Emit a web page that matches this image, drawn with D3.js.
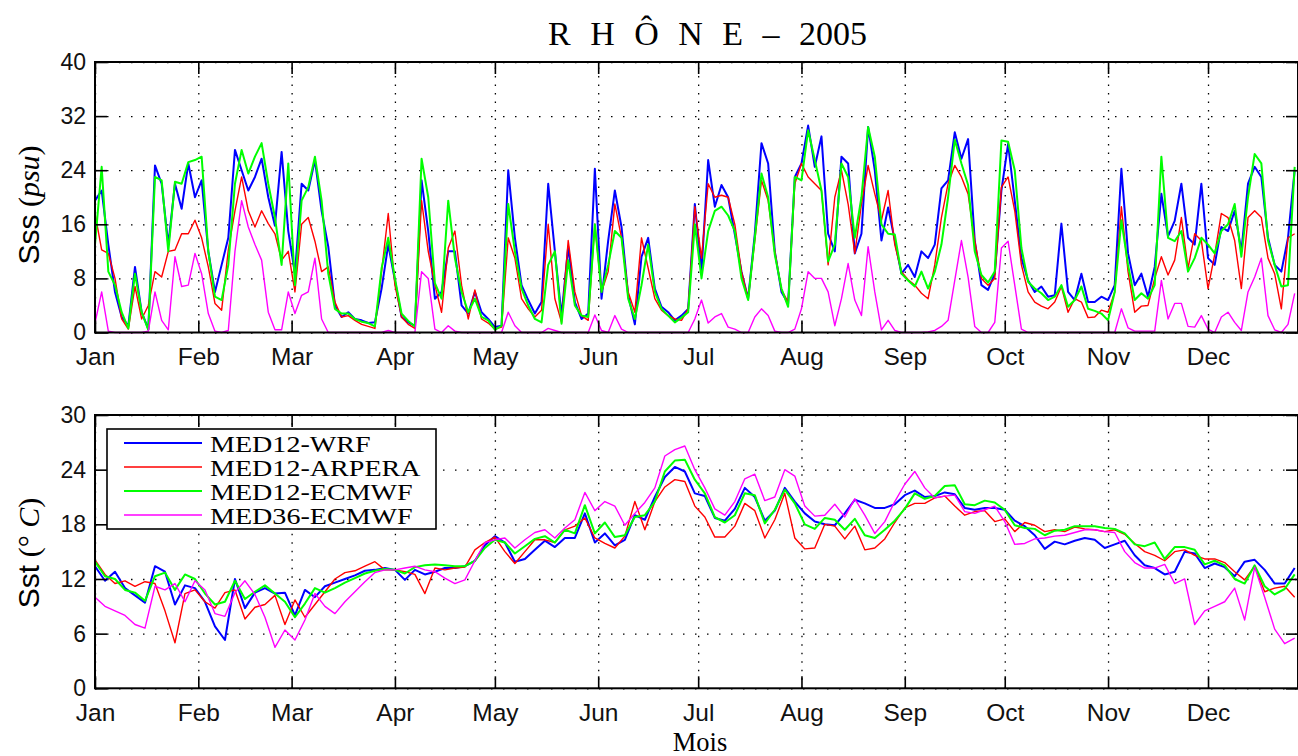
<!DOCTYPE html>
<html>
<head>
<meta charset="utf-8">
<script src="https://cdn.jsdelivr.net/npm/d3@7"></script>
<style>
body { margin: 0; background: #fff; }
</style>
</head>
<body>
<div id="chart"></div>
<script>
const width = 1298,
    height = 756
const left = 95,
    right = 1298
const sssBox = { top: 62, bottom: 332.5 }
const sstBox = { top: 415, bottom: 688.3 }

const seriesNames = ['MED12-WRF', 'MED12-ARPERA', 'MED12-ECMWF', 'MED36-ECMWF']
const seriesColors = ['#0000ff', '#ff0000', '#00ff00', '#ff00ff']
const seriesWidths = [2, 1.4, 2, 1.4]

const sssTicks = [0, 8, 16, 24, 32, 40]
const sstTicks = [0, 6, 12, 18, 24, 30]

// salinity, one value every 2 days from 1 Jan
const sssStep = 2
const sssWrf = [
    19.5, 21, 13, 6, 2.3, 1, 9.7, 3, 0.5, 24.7, 22, 13, 22, 18.3, 25, 20, 22.5, 12, 6, 10, 14, 27, 24, 21, 23, 25.7, 20, 15.8, 26.7, 15, 8.7,
    22, 21, 25.5, 18, 12.7, 4, 2.3, 3, 2, 1.8, 1.4, 1.5, 6.5, 13, 7.7, 2.3, 1.5, 1, 22.5, 15, 5, 6, 12, 12, 4, 2.8, 6, 3, 2, 0.8,
    1, 24, 14, 7, 4.8, 2.8, 4.5, 22, 12, 2.5, 12.7, 4.5, 2, 2.8, 24.2, 5, 13.6, 21, 15.6, 5.5, 1.2, 11.2, 14, 6.5, 3.8, 3, 1.8, 2.5, 3.5, 19,
    9, 25.5, 18.6, 21.8, 20, 14.5, 9, 5, 14.6, 28, 25, 12, 6, 4.3, 23, 25, 30.6, 24.5, 29, 14.6, 12, 26, 25, 11.7, 14.6, 30.4, 24, 13.6, 18.5, 13.6,
    8.7, 10, 8.2, 12, 11, 13, 21.3, 22.5, 29.6, 25.7, 28.6, 13.6, 7, 6.3, 8.7, 21, 27.9, 19.5, 11, 7.7, 6, 6.8, 5.3, 5.5, 16.1, 6, 4.8, 8.7, 4.5, 4.5,
    5.3, 4.8, 7, 24.2, 11.7, 7, 8.7, 5.3, 9.7, 20.5, 14.2, 16.5, 22, 14, 13, 22, 11, 10, 15.6, 15, 18, 12, 22, 24.5, 23, 14, 10, 9, 14, 24
]
const sssArpera = [
    17.6, 12.2, 11.7, 8, 2, 0.5, 6.8, 2, 4, 9, 8.2, 12, 12.2, 14.6, 14.6, 16.6, 14, 9.7, 4.3, 3.3, 12.2, 18, 23, 18, 15.6, 18, 16.1, 14.6, 10.7, 12, 6,
    16, 17, 13.5, 9, 9.7, 4.5, 2.3, 2.5, 1.8, 1.2, 0.9, 0.6, 9, 17.6, 7, 2.3, 1.2, 0.6, 19.5, 12, 7, 3, 12.5, 15, 7, 2, 6.3, 2, 1.4, 0.5,
    0.8, 14, 11, 5, 3.5, 2.3, 3.3, 16, 5, 1.5, 13.6, 6, 2.5, 1.8, 16, 6, 9, 19, 14, 6, 3, 14, 9.5, 5, 3.3, 2.5, 2, 1.8, 3.5, 18.6,
    11, 22, 20, 20.3, 20, 16, 9, 5, 13.6, 22.5, 19.5, 12, 6.3, 4.5, 22, 25, 23, 22, 21, 10, 20, 24, 19, 11.7, 19, 24.7, 20.5, 16.6, 21, 13,
    9, 7.8, 7, 5.8, 5, 10, 17, 22, 24.7, 23, 20.5, 13.6, 8, 7, 8, 21.5, 23, 18, 10, 6, 4.5, 3.9, 3.5, 4.5, 6.8, 3, 5, 4.5, 2.2, 2.3,
    3.3, 3, 6, 18.6, 9, 3, 3.9, 4, 8, 11.2, 8.5, 10.7, 17, 9.5, 14.6, 13.6, 6.5, 11.5, 17.6, 17, 13.6, 6.5, 17, 18, 17, 11, 8.7, 3.5, 14, 14.6
]
const sssEcmwf = [
    13, 24.5, 9, 7, 3, 0.6, 8.7, 3, 0.4, 23, 22.5, 12, 22.3, 22, 25.2, 25.5, 26, 12, 5.3, 4.8, 10, 22, 27, 23.5, 26, 28, 22, 17, 10, 25, 7,
    19.5, 21.5, 26, 19.5, 8.7, 3.5, 2.8, 2.8, 2, 1.6, 1.4, 0.9, 9.5, 14, 8, 2.8, 1.7, 0.9, 25.7, 20, 7.3, 5, 19.5, 11, 6, 3, 5, 2.3, 1.8, 0.4,
    1, 19, 12, 6.5, 4, 2, 1.5, 10, 12, 1.3, 10.7, 4, 2.5, 2.3, 16, 6, 10, 15, 14, 5, 2, 7, 13, 6, 3.5, 2.5, 1.5, 2.2, 3, 16,
    8, 15, 18, 18.6, 17.3, 15, 8, 4.8, 14, 23.5, 20, 11.5, 6.5, 3.8, 23, 22.5, 29.9, 25.5, 21, 10.5, 13, 25, 23, 14, 20, 30.4, 26, 16, 14.6, 14.5,
    8.7, 7.7, 6.8, 9, 6.5, 9, 13, 20, 28.5, 25, 21.8, 12, 8.5, 7.4, 9, 28.4, 28.2, 24, 12.5, 7.5, 6.5, 5.8, 4.8, 5.3, 7, 3.8, 4.8, 6.8, 3.5, 3.2,
    2.8, 1.8, 6, 16.6, 10, 4.8, 5.8, 5, 7, 26, 14, 13.5, 15, 9, 11, 14, 13, 11.7, 15, 16, 19, 11.2, 20, 26.4, 25, 13.6, 10, 6.8, 7, 24.5
]
const sssMed36 = [
    1.4, 6, 0.2, 0, 0, 0, 0, 0, 0.2, 6, 1.8, 0.4, 11.2, 6.8, 7, 11.7, 8.7, 2.8, 0.2, 0, 0.3, 12, 19.5, 15.6, 13, 10.7, 3, 0.4, 0.4, 6, 2.8,
    5.5, 6, 11, 2, 0, 0, 0, 0, 0, 0, 0, 0, 0, 0.3, 0, 0, 0, 0, 9, 8, 0.5, 0, 1, 0.2, 0, 0, 0, 0, 0, 0,
    0, 3, 1, 0, 0, 0, 0, 0.6, 0.3, 0, 0, 0, 0, 0, 2.6, 0.3, 0, 2.5, 0.5, 0, 0, 0, 0, 0, 0, 0, 0, 0, 0, 2,
    4.8, 1.4, 2.3, 2.8, 0.8, 0.5, 0, 0, 2.3, 3.5, 2.5, 0.2, 0, 0, 0.5, 3.5, 9, 8, 8, 6, 1, 5, 10.2, 4.8, 2.5, 12.7, 6, 0.4, 1.8, 0.3,
    0, 0, 0, 0, 0.1, 0.3, 0.9, 1.8, 7.7, 13.6, 8.2, 0.9, 0, 0, 1.5, 12.5, 13.5, 7, 0.5, 0, 0, 0, 0, 0, 0, 0, 0, 0, 0, 0,
    0, 0, 0, 3.5, 0.7, 0.2, 0.2, 0.2, 0.2, 7.7, 2, 4.3, 4.3, 0.9, 0.8, 2.5, 0.5, 0, 2.3, 3, 1.5, 0.3, 6, 8.2, 11, 2.5, 0.4, 0, 1.2, 5.8
]

// temperature, one value every 3 days from 1 Jan
const sstStep = 3
const sstWrf = [
    13.4, 11.8, 12.8, 11, 10.2, 9.4, 13.4, 12.8, 9.2, 11.3, 11, 9.5, 6.8, 5.3, 12, 8.8, 10.5, 11, 10.4, 10.5, 8, 10.8, 10, 11.2, 11.6, 12, 12.4, 12.9, 13, 13.2, 13, 11.9, 13, 12.5, 12.8, 13.2,
    13.2, 13.4, 14, 15.7, 16.7, 16, 13.9, 14.2, 15.2, 16.2, 15.5, 16.5, 16.5, 19.2, 16, 17, 15.7, 16.3, 19, 18.5, 21, 23.2, 24.3, 23.8, 21.4, 21.1, 18.7, 18.4, 19.7, 22, 21, 18.4, 19.5, 22, 20.5, 19.2, 18.3, 18, 17.9, 19.2, 20.7, 20.3,
    19.8, 19.8, 20.2, 21.2, 21.7, 21, 21.1, 21.5, 21.3, 19.8, 19.6, 19.8, 19.8, 19.6, 18.4, 17.8, 16.8, 15.3, 16.1, 15.8, 16.2, 16.5, 16.3, 15.4, 15.8, 16.2, 14.6, 13.5, 13.2, 12.5, 12.8, 15, 14.8, 13.2, 13.7, 13.3, 12.3, 13.9, 14.1, 13, 11.5, 11.5, 13.2
]
const sstArpera = [
    14.1, 12.5, 11.5, 11.8, 11.2, 11.7, 11.5, 8.5, 5, 10.4, 10.8, 9.5, 8.8, 10.5, 10.8, 7.6, 8.9, 9.2, 10.2, 7, 9.7, 7.8, 9.2, 10.6, 12, 12.7, 12.9, 13.4, 13.9, 13, 13, 12.8, 12.5, 10.4, 13.2, 13,
    13.2, 13.3, 15.2, 16, 16.6, 15, 13.7, 15, 16.3, 16.3, 16, 17.4, 17.8, 18.7, 16.5, 15.9, 15.4, 16.7, 20.5, 17.4, 20.5, 22.1, 22.9, 22.7, 20, 18.8, 16.6, 16.6, 17.8, 20.3, 19.5, 16.5, 18.5, 21.4, 16.5, 15.3, 15.4, 18, 17.8, 16.4, 17.8, 15.2,
    15.4, 16.4, 18.2, 19.8, 20.3, 20.3, 20.9, 21.1, 20, 19, 19.4, 19.5, 18.3, 18.6, 17.2, 18.2, 17.9, 17.2, 17.4, 17.2, 17.7, 17.5, 17.4, 17.2, 17.4, 16.9, 15.9, 15, 14.6, 14, 15, 15.2, 14.6, 14.2, 14.2, 13.8, 12.8, 11.9, 13.4, 10.6, 11, 11.2, 10
]
const sstEcmwf = [
    13.9, 12.3, 12, 10.8, 10.5, 9.6, 12.3, 12.7, 10.8, 12.5, 12, 10.4, 9.2, 9.5, 11.8, 9.8, 10.6, 11.3, 10.4, 9.5, 7.8, 9.3, 11, 10.5, 11, 11.6, 12.1, 12.6, 12.9, 13.1, 13, 12.6, 13.3, 13.5, 13.6, 13.5,
    13.4, 13.4, 14, 15.4, 16.3, 16, 14.8, 15.6, 16.4, 16.7, 16, 17.4, 17, 20.1, 17, 18.2, 16.6, 16.8, 18.8, 19, 20.5, 23.8, 25, 25.1, 22.9, 21.4, 18.8, 18.2, 19, 21.4, 21.2, 18.1, 19.6, 21.8, 20.3, 18, 17.5, 18.7, 18.5, 17.4, 18.6, 16.8,
    16.5, 17.4, 18.4, 19.7, 21.4, 20.8, 21.1, 22.2, 22.3, 20.2, 20.1, 20.6, 20.4, 19.6, 17.9, 17.6, 17.5, 16.8, 17.3, 17.4, 17.8, 17.8, 17.8, 17.6, 17.5, 17, 15.8, 15.6, 16, 14.2, 15.5, 15.5, 15.2, 13.6, 14, 13.5, 12, 11.5, 13.5, 11.2, 10.3, 10.9, 12.5
]
const sstMed36 = [
    10, 9, 8.5, 8, 7, 6.6, 11.2, 10.8, 11.5, 9.5, 11.8, 10.8, 8.2, 7.9, 10.5, 11.8, 10.3, 7.8, 4.5, 6.4, 5.3, 7.5, 10.4, 9, 8.2, 9.5, 10.6, 11.7, 12.7, 13, 13, 13.2, 13.4, 13, 12.8, 12.1,
    11.5, 11.9, 14, 16, 16.3, 16.5, 15.4, 16.3, 17.1, 17.4, 16.5, 17.6, 18.5, 21.5, 19.5, 20.5, 20, 17.9, 19.2, 20.4, 22, 25.5, 26.2, 26.6, 24, 22, 19.7, 19, 20.5, 23, 23.5, 20.6, 21, 24, 23.3, 20, 18.9, 19, 20.2, 18.8, 20.8, 19,
    17, 18.3, 20.5, 22.4, 23.8, 22, 20.9, 21.1, 21.2, 19.4, 19.2, 19.6, 20, 18.3, 15.8, 15.9, 16.4, 16.5, 16.7, 16.8, 17.1, 17.4, 17.4, 17.2, 17.1, 15, 13.8, 13.2, 13.2, 13.6, 11.5, 12, 7, 8.5, 9, 9.5, 11, 7.5, 13.3, 10, 6.5, 4.9, 5.5
]

const sansFont = "'Liberation Sans', Arial, Helvetica, sans-serif"
const serifFont = "'Liberation Serif', 'Times New Roman', serif"

const svg = d3.select('#chart')
    .append('svg')
    .attr('width', width)
    .attr('height', height)

const x = d3.scaleUtc()
    .domain([new Date(Date.UTC(2005, 0, 1)), new Date(Date.UTC(2005, 11, 28))])
    .range([left, right])

function sampleDate(i, step) {
    return new Date(Date.UTC(2005, 0, 1 + i * step))
}

function drawPanel(box, yMax, yTicks, series, step) {
    const y = d3.scaleLinear().domain([0, yMax]).range([box.bottom, box.top])
    const h = box.bottom - box.top
    const months = d3.utcMonth.every(1)

    // dotted grid
    const gx = svg.append('g')
        .attr('transform', 'translate(0,' + box.bottom + ')')
        .call(d3.axisBottom(x).ticks(months).tickSize(-h).tickFormat(''))
    const gy = svg.append('g')
        .attr('transform', 'translate(' + left + ',0)')
        .call(d3.axisLeft(y).tickValues(yTicks).tickSize(-(right - left)).tickFormat(''))
    gx.select('.domain').remove()
    gy.select('.domain').remove()
    gx.selectAll('line').attr('stroke', '#000').attr('stroke-width', 1.3).attr('stroke-dasharray', '1.5,7')
    gy.selectAll('line').attr('stroke', '#000').attr('stroke-width', 1.3).attr('stroke-dasharray', '1.5,10.5')

    // series
    const line = d3.line()
        .x(function (d, i) { return x(sampleDate(i, step)) })
        .y(function (d) { return y(d) })
    series.forEach(function (values, k) {
        svg.append('path')
            .datum(values)
            .attr('fill', 'none')
            .attr('stroke', seriesColors[k])
            .attr('stroke-width', seriesWidths[k])
            .attr('stroke-linejoin', 'round')
            .attr('d', line)
    })

    // box
    svg.append('rect')
        .attr('x', left).attr('y', box.top)
        .attr('width', right - left).attr('height', h)
        .attr('fill', 'none').attr('stroke', '#000').attr('stroke-width', 2)

    // inward ticks on all four sides
    const axes = [
        ['translate(0,' + box.bottom + ')', d3.axisBottom(x).ticks(months).tickFormat(d3.utcFormat('%b')).tickPadding(15), 24.5],
        ['translate(0,' + box.top + ')', d3.axisTop(x).ticks(months).tickFormat(''), 24],
        ['translate(' + left + ',0)', d3.axisLeft(y).tickValues(yTicks).tickPadding(9), 23],
        ['translate(' + right + ',0)', d3.axisRight(y).tickValues(yTicks).tickFormat(''), 23]
    ]
    axes.forEach(function (a) {
        const g = svg.append('g').attr('transform', a[0]).call(a[1].tickSize(-12))
        g.select('.domain').remove()
        g.selectAll('line').attr('stroke', '#000').attr('stroke-width', 1.6)
        g.attr('font-family', sansFont).attr('font-size', a[2])
        g.selectAll('text').attr('fill', '#111')
    })
    return y
}

drawPanel(sssBox, 40, sssTicks, [sssWrf, sssArpera, sssEcmwf, sssMed36], sssStep)
drawPanel(sstBox, 30, sstTicks, [sstWrf, sstArpera, sstEcmwf, sstMed36], sstStep)

// title
const title = svg.append('text')
    .attr('x', 548).attr('y', 45)
    .attr('font-family', serifFont)
    .attr('font-size', 34)
    .attr('xml:space', 'preserve')
title.append('tspan').attr('letter-spacing', 5.5).text('R H Ô N E – ')
title.append('tspan').text('2005')

// y labels
const sssLabel = svg.append('text')
    .attr('transform', 'translate(39,205) rotate(-90)')
    .attr('text-anchor', 'middle')
    .attr('font-size', 30)
sssLabel.append('tspan').attr('font-family', sansFont).text('Sss')
sssLabel.append('tspan').attr('font-family', serifFont).text(' (')
sssLabel.append('tspan').attr('font-family', serifFont).attr('font-style', 'italic').text('psu')
sssLabel.append('tspan').attr('font-family', serifFont).text(')')

const sstLabel = svg.append('text')
    .attr('transform', 'translate(39,553) rotate(-90)')
    .attr('text-anchor', 'middle')
    .attr('font-size', 30)
sstLabel.append('tspan').attr('font-family', sansFont).text('Sst')
sstLabel.append('tspan').attr('font-family', serifFont).text(' (°')
sstLabel.append('tspan').attr('font-family', serifFont).attr('font-style', 'italic').text(' C')
sstLabel.append('tspan').attr('font-family', serifFont).text(')')

// x label
svg.append('text')
    .attr('x', 700).attr('y', 751)
    .attr('text-anchor', 'middle')
    .attr('font-family', serifFont)
    .attr('font-size', 26.5)
    .text('Mois')

// legend
const legend = svg.append('g').attr('transform', 'translate(107,429)')
legend.append('rect')
    .attr('width', 329).attr('height', 100)
    .attr('fill', '#fff').attr('stroke', '#000').attr('stroke-width', 1.6)
seriesNames.forEach(function (name, k) {
    const yy = 14 + k * 24
    legend.append('line')
        .attr('x1', 17).attr('x2', 95)
        .attr('y1', yy).attr('y2', yy)
        .attr('stroke', seriesColors[k])
        .attr('stroke-width', seriesWidths[k])
    legend.append('text')
        .attr('transform', 'translate(103,' + (yy + 8.5) + ') scale(1.17,1)')
        .attr('font-family', serifFont)
        .attr('font-size', 24)
        .text(name)
})
</script>
</body>
</html>
